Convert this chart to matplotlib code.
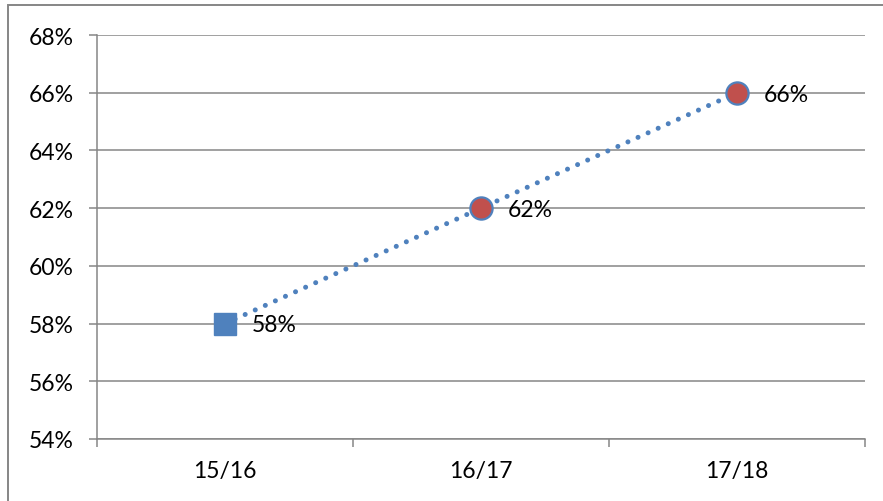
import matplotlib.pyplot as plt
from matplotlib.patches import Rectangle

# share of pupils per school year
years = ['15/16', '16/17', '17/18']
share = [58, 62, 66]
y_ticks = [54, 56, 58, 60, 62, 64, 66, 68]

plt.rcParams['font.family'] = ['Lato', 'DejaVu Sans']

fig = plt.figure(figsize=(8.83, 5.02), dpi=100)
ax = fig.add_axes([97 / 883, 1 - 440 / 502, 768 / 883, 404 / 502])

grid_col = '#868686'
blue = '#4F81BD'
red = '#C0504D'
fs = 16.5

x = [i + 0.5 for i in range(len(years))]

# dotted trend line
ax.plot(x, share, color=blue, lw=3.6, linestyle=(0, (0.01, 2.2)),
        dash_capstyle='round', zorder=3)

# first year as square, later years as circles
ax.plot(x[0], share[0], marker='s', ms=16, color=blue, mec=blue, zorder=4, ls='none')
ax.plot(x[1:], share[1:], marker='o', ms=16, color=red, mec=blue, mew=1.6,
        zorder=4, ls='none')

for xi, v in zip(x, share):
    ax.annotate(f'{v}%', (xi, v), xytext=(19, -1), textcoords='offset points',
                ha='left', va='center', fontsize=fs, color='black', zorder=5)

ax.set_xlim(0, len(years))
ax.set_ylim(54, 68)
ax.set_yticks(y_ticks)
ax.set_yticklabels([f'{t}%' for t in y_ticks])
ax.set_xticks(x)
ax.set_xticklabels(years)
ax.set_xticks(range(len(years) + 1), minor=True)

ax.grid(axis='y', color=grid_col, lw=1.1)
ax.set_axisbelow(True)
for s in ['top', 'right']:
    ax.spines[s].set_visible(False)
for s in ['left', 'bottom']:
    ax.spines[s].set_color(grid_col)
    ax.spines[s].set_linewidth(1.1)

ax.tick_params(axis='y', length=6, width=1.1, color=grid_col, labelsize=fs, pad=11)
ax.tick_params(axis='x', which='major', length=0, labelsize=fs, pad=15)
ax.tick_params(axis='x', which='minor', length=6, width=1.1, color=grid_col)

# outer chart border
fig.patches.append(Rectangle((8 / 883, -0.1), 1.2, 1 - 6 / 502 + 0.1,
                             transform=fig.transFigure, fill=False,
                             edgecolor=grid_col, lw=1.4))

fig.savefig('out.png', dpi=100)
